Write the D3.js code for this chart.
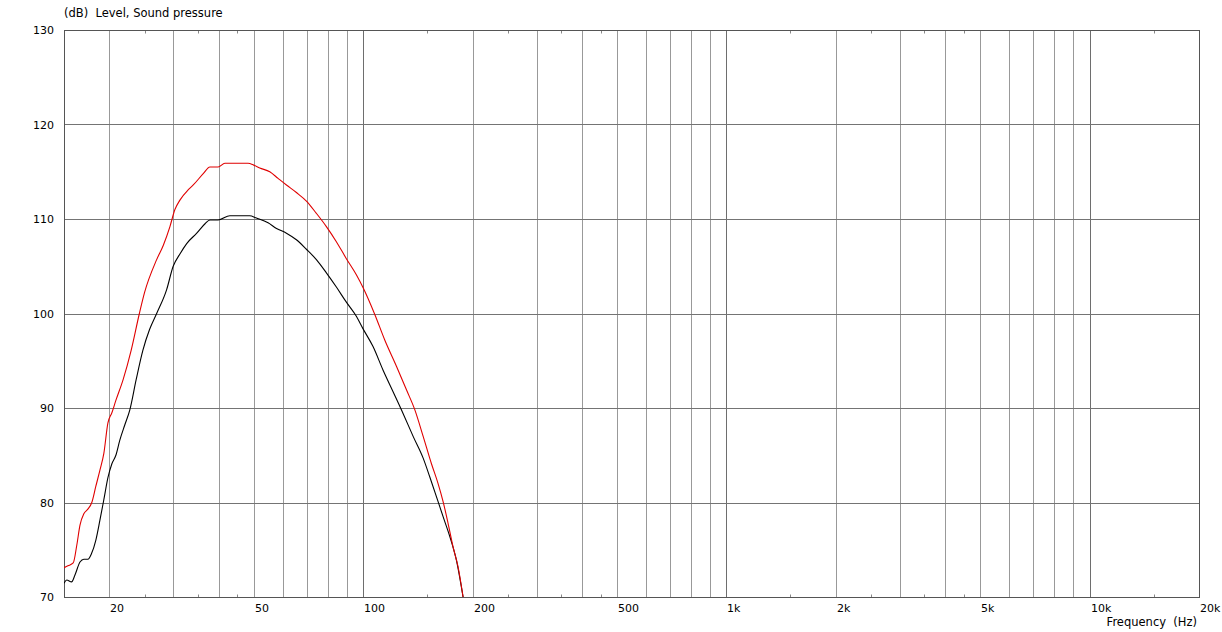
<!DOCTYPE html>
<html lang='en'>

<head>
    <meta charset='UTF-8'>
    <title>Level, Sound pressure</title>
    <script src='https://d3js.org/d3.v7.min.js' charset='utf-8'></script>
    <style>
        body {
            margin: 0px;
            background: #ffffff;
            overflow: hidden;
        }

        svg text {
            font-family: 'DejaVu Sans', Verdana, sans-serif;
            font-size: 11px;
            fill: #000000;
            white-space: pre;
        }

        svg text.caption {
            font-size: 11.5px;
        }
    </style>
</head>

<body>
    <div id='chart'></div>
    <script>
        'use strict';

        // black trace: frequency (Hz) / level (dB)
        const blackFreq = [15.0, 15.26, 15.74, 16.07, 16.6, 17.01, 17.45, 17.86, 18.35, 18.83, 19.31, 19.81, 20.32, 20.84,
            21.37, 22.05, 22.77, 23.7, 24.73, 25.8, 26.99, 28.74, 29.97, 31.28, 32.65, 34.8, 36.68, 37.83, 39.86, 42.93,
            48.68, 50.8, 54.69, 57.7, 61.45, 65.46, 69.74, 74.3, 79.16, 84.33, 89.85, 95.72, 99.8, 106.4, 113.4, 120.9,
            128.8, 137.2, 146.2, 152.5, 159.1, 165.9, 173.1, 180.5, 188.3];
        const blackDb = [71.45, 71.8, 71.6, 72.3, 73.7, 74.0, 74.0, 74.6, 76.0, 78.1, 80.3, 82.6, 84.1, 85.0,
            86.6, 88.2, 89.8, 93.0, 96.1, 98.3, 100.0, 102.5, 105.0, 106.3, 107.4, 108.5, 109.5, 109.9, 109.9, 110.35,
            110.35, 110.1, 109.6, 109.0, 108.5, 107.8, 106.8, 105.7, 104.3, 102.8, 101.2, 99.7, 98.4, 96.5, 94.0, 91.7,
            89.4, 87.0, 84.7, 82.7, 80.6, 78.5, 76.4, 73.9, 70.0];

        // red trace
        const redFreq = [15.0, 15.38, 15.9, 16.27, 16.6, 17.01, 17.45, 17.89, 18.35, 18.83, 19.31, 19.81, 20.32, 20.84,
            21.82, 22.96, 24.19, 24.99, 26.99, 28.14, 29.36, 30.3, 31.28, 32.98, 34.04, 36.26, 37.83, 39.86, 41.59,
            48.17, 49.94, 51.88, 55.29, 58.27, 61.45, 65.46, 69.74, 74.3, 79.16, 84.33, 89.85, 95.72, 100.0, 107.6,
            114.6, 123.5, 131.6, 138.7, 146.2, 154.1, 160.7, 165.9, 171.2, 176.7, 182.4, 188.3];
        const redDb = [73.1, 73.3, 73.6, 75.5, 77.6, 78.8, 79.3, 80.0, 81.7, 83.4, 85.2, 88.4, 89.5, 90.8,
            93.0, 96.1, 100.0, 102.2, 105.7, 107.2, 109.2, 111.0, 112.0, 113.1, 113.6, 114.8, 115.5, 115.5, 115.9,
            115.9, 115.7, 115.4, 115.0, 114.3, 113.6, 112.8, 111.9, 110.6, 109.2, 107.6, 105.8, 104.1, 102.7, 99.9,
            97.2, 94.4, 91.9, 89.8, 87.0, 84.1, 82.0, 80.1, 77.8, 75.3, 73.2, 70.0];

        const gridFreq = [20, 30, 40, 50, 60, 70, 80, 90, 100, 200, 300, 400, 500, 600, 700, 800, 900, 1000,
            2000, 3000, 4000, 5000, 6000, 7000, 8000, 9000, 10000];
        const decadeFreq = [100, 1000, 10000];
        const minorFreq = [25, 35, 45, 150, 250, 350, 450, 1500, 2500, 3500, 4500, 15000];
        const xTicks = [20, 50, 100, 200, 500, 1000, 2000, 5000, 10000, 20000];
        const xTickLabels = ['20', '50', '100', '200', '500', '1k', '2k', '5k', '10k', '20k'];
        const yTicks = [70, 80, 90, 100, 110, 120, 130];

        const W = 1222, H = 632;
        const margin = { top: 30, right: 23, bottom: 35, left: 64 };
        const x0 = margin.left, x1 = W - margin.right;
        const y0 = H - margin.bottom, y1 = margin.top;

        const x = d3.scaleLog().domain([15, 20000]).range([x0, x1]);
        const y = d3.scaleLinear().domain([70, 130]).range([y0, y1]);
        const px = v => Math.round(v) + 0.5;

        const svg = d3.select('#chart')
            .append('svg')
            .attr('width', W)
            .attr('height', H);

        svg.append('defs').append('clipPath')
            .attr('id', 'plot')
            .append('rect')
            .attr('x', x0).attr('y', y1)
            .attr('width', x1 - x0).attr('height', y0 - y1);

        // vertical grid
        svg.append('g')
            .selectAll('line')
            .data(gridFreq)
            .enter()
            .append('line')
            .attr('x1', d => px(x(d))).attr('x2', d => px(x(d)))
            .attr('y1', y1).attr('y2', y0)
            .attr('stroke', d => decadeFreq.includes(d) ? '#6e6e6e' : '#999999')
            .attr('stroke-width', 1);

        // horizontal grid
        svg.append('g')
            .selectAll('line')
            .data(yTicks.slice(1, -1))
            .enter()
            .append('line')
            .attr('x1', x0).attr('x2', x1)
            .attr('y1', d => px(y(d))).attr('y2', d => px(y(d)))
            .attr('stroke', '#747474')
            .attr('stroke-width', 1);

        // minor ticks top & bottom
        const minor = svg.append('g').attr('stroke', '#888888');
        minorFreq.forEach(f => {
            minor.append('line')
                .attr('x1', px(x(f))).attr('x2', px(x(f)))
                .attr('y1', px(y0) - 3).attr('y2', px(y0));
            minor.append('line')
                .attr('x1', px(x(f))).attr('x2', px(x(f)))
                .attr('y1', px(y1)).attr('y2', px(y1) + 3);
        });

        // frame
        svg.append('rect')
            .attr('x', px(x0)).attr('y', px(y1))
            .attr('width', Math.round(x1) - Math.round(x0))
            .attr('height', Math.round(y0) - Math.round(y1))
            .attr('fill', 'none')
            .attr('stroke', '#555555');

        // curves
        const line = d3.line()
            .curve(d3.curveMonotoneX)
            .x(d => x(d[0]))
            .y(d => y(d[1]));

        const curves = svg.append('g').attr('clip-path', 'url(#plot)');
        curves.append('path')
            .datum(blackFreq.map((f, i) => [f, blackDb[i]]))
            .attr('d', line)
            .attr('fill', 'none')
            .attr('stroke', '#000000')
            .attr('stroke-width', 1.1);
        curves.append('path')
            .datum(redFreq.map((f, i) => [f, redDb[i]]))
            .attr('d', line)
            .attr('fill', 'none')
            .attr('stroke', '#e00000')
            .attr('stroke-width', 1.1);

        // x labels, left aligned at the grid line
        svg.append('g')
            .selectAll('text')
            .data(xTicks)
            .enter()
            .append('text')
            .attr('x', d => Math.round(x(d)) + 1)
            .attr('y', 612)
            .attr('text-anchor', 'start')
            .text((d, i) => xTickLabels[i]);

        // y labels
        svg.append('g')
            .selectAll('text')
            .data(yTicks)
            .enter()
            .append('text')
            .attr('x', 54)
            .attr('y', d => y(d) + 4)
            .attr('text-anchor', 'end')
            .text(d => d);

        svg.append('text')
            .attr('class', 'caption')
            .attr('x', 64)
            .attr('y', 17)
            .text('(dB)  Level, Sound pressure');

        svg.append('text')
            .attr('class', 'caption')
            .attr('x', 1197)
            .attr('y', 626)
            .attr('text-anchor', 'end')
            .text('Frequency  (Hz)');
    </script>
</body>

</html>
